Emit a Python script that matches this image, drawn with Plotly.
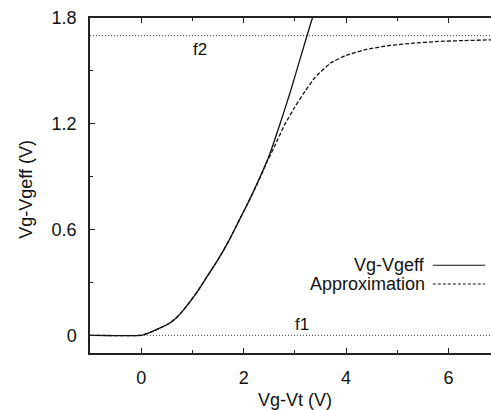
import plotly.graph_objects as go

# Vg-Vt sweep (V) and the exact Vg-Vgeff curve (V)
vgt_exact = [-1.0, 0.0, 0.1, 0.2, 0.35, 0.5, 0.65, 0.8, 0.95, 1.1, 1.3, 1.5, 1.7,
             1.9, 2.1, 2.3, 2.5, 2.7, 2.9, 3.1, 3.3, 3.45]
vgeff_exact = [0.0, 0.0, 0.008, 0.02, 0.04, 0.06, 0.09, 0.135, 0.19, 0.25, 0.34, 0.43, 0.53,
               0.645, 0.76, 0.885, 1.02, 1.19, 1.37, 1.565, 1.76, 1.90]

# Smooth approximation, saturating just below f2
vgt_approx = [-1.0, 0.0, 0.1, 0.2, 0.35, 0.5, 0.65, 0.8, 0.95, 1.1, 1.3, 1.5, 1.7,
              1.9, 2.1, 2.3, 2.45, 2.6, 2.8, 3.0, 3.2, 3.4, 3.7, 4.0, 4.4, 4.8,
              5.3, 5.8, 6.3, 6.83]
vgeff_approx = [0.0, 0.0, 0.008, 0.02, 0.04, 0.06, 0.09, 0.135, 0.19, 0.25, 0.34, 0.43, 0.53,
                0.645, 0.76, 0.88, 0.98, 1.07, 1.195, 1.295, 1.385, 1.465, 1.545, 1.588,
                1.622, 1.642, 1.657, 1.667, 1.672, 1.676]

# Asymptote levels f1 and f2
limit_names = ["f1", "f2"]
limit_levels = [0.0, 1.70]
limit_label_x = [3.13, 1.15]
limit_label_y = [0.062, 1.62]

x_range = [-1.0, 6.83]
y_range = [-0.1, 1.8]

FONT = "Liberation Sans, Arial, sans-serif"
TXT = 18

fig = go.Figure()

for lvl in limit_levels:
    fig.add_trace(go.Scatter(
        x=x_range, y=[lvl, lvl], mode="lines",
        line=dict(color="#444", width=1, dash="1px,2px"),
        showlegend=False, hoverinfo="skip"))

fig.add_trace(go.Scatter(
    x=vgt_approx, y=vgeff_approx, mode="lines", name="Approximation",
    line=dict(color="#111", width=1.3, dash="4px,2px", shape="spline", smoothing=0.4),
    showlegend=False))

fig.add_trace(go.Scatter(
    x=vgt_exact, y=vgeff_exact, mode="lines", name="Vg-Vgeff",
    line=dict(color="#111", width=1.3, shape="spline", smoothing=0.4),
    showlegend=False))

annotations = []
for name, lx, ly in zip(limit_names, limit_label_x, limit_label_y):
    annotations.append(dict(x=lx, y=ly, xref="x", yref="y", text=name, showarrow=False,
                            font=dict(family=FONT, size=17, color="#111")))

# Key: right-aligned labels followed by line samples
key_items = [("Vg-Vgeff", "solid", 0.262), ("Approximation", "3px,2px", 0.206)]
shapes = []
for label, dash, py in key_items:
    annotations.append(dict(x=0.84, y=py, xref="paper", yref="paper", text=label,
                            showarrow=False, xanchor="right", yanchor="middle",
                            font=dict(family=FONT, size=TXT, color="#111")))
    shapes.append(dict(type="line", xref="paper", yref="paper", x0=0.855, x1=0.985,
                       y0=py, y1=py, line=dict(color="#111", width=1.2, dash=dash)))

annotations.append(dict(x=0.511, y=-0.14, xref="paper", yref="paper", text="Vg-Vt (V)",
                        showarrow=False, xanchor="center", yanchor="middle",
                        font=dict(family=FONT, size=TXT, color="#111")))
annotations.append(dict(x=-0.16, y=0.49, xref="paper", yref="paper", text="Vg-Vgeff (V)",
                        textangle=-90, showarrow=False, xanchor="center", yanchor="middle",
                        font=dict(family=FONT, size=TXT, color="#111")))

fig.update_layout(
    width=491, height=410,
    margin=dict(l=90, r=0, t=18, b=57),
    paper_bgcolor="white", plot_bgcolor="white",
    font=dict(family=FONT, size=TXT, color="#111"),
    annotations=annotations, shapes=shapes,
    showlegend=False,
)

fig.update_xaxes(
    range=x_range, showgrid=False, zeroline=False,
    showline=True, linecolor="#222", linewidth=1.5, mirror="ticks",
    ticks="inside", ticklen=5, tickwidth=1.2, tickcolor="#222",
    tick0=0, dtick=2, ticklabelstandoff=8,
    minor=dict(ticks="inside", ticklen=3, tickwidth=1, tickcolor="#222", dtick=1, tick0=0),
    tickfont=dict(family=FONT, size=TXT, color="#111"),
)
fig.update_yaxes(
    range=y_range, showgrid=False, zeroline=False,
    showline=True, linecolor="#222", linewidth=1.5,
    ticks="inside", ticklen=5, tickwidth=1.2, tickcolor="#222",
    tick0=0, dtick=0.6, tickformat="~g", ticklabelstandoff=8,
    minor=dict(ticks="inside", ticklen=3, tickwidth=1, tickcolor="#222", dtick=0.3, tick0=0),
    tickfont=dict(family=FONT, size=TXT, color="#111"),
)

fig.write_html("out.html")
